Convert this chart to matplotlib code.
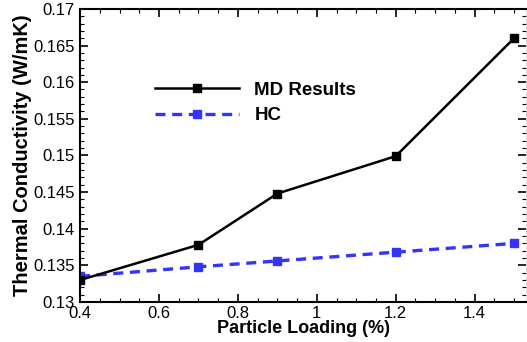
import numpy as np
import matplotlib
matplotlib.use("Agg")
from matplotlib import pyplot as plt
from matplotlib.ticker import MultipleLocator

plt.rcParams["font.family"] = ["Liberation Sans", "DejaVu Sans"]

loading = [0.4, 0.7, 0.9, 1.2, 1.5]
md_results = [0.1330, 0.1378, 0.1448, 0.1499, 0.1660]
hc_values = [0.1335, 0.1348, 0.1356, 0.1368, 0.1380]

x_ticks = [0.4, 0.6, 0.8, 1.0, 1.2, 1.4]
x_labels = ["0.4", "0.6", "0.8", "1", "1.2", "1.4"]
y_ticks = [0.13, 0.135, 0.14, 0.145, 0.15, 0.155, 0.16, 0.165, 0.17]
y_labels = ["0.13", "0.135", "0.14", "0.145", "0.15", "0.155", "0.16", "0.165", "0.17"]

fig = plt.figure(figsize=(5.27, 3.42), dpi=100)
ax = fig.add_axes([0.152, 0.117, 0.846, 0.857])

ax.plot(loading, md_results, "-", color="black", lw=1.8, marker="s",
        ms=5.5, label="MD Results", zorder=3)
ax.plot(loading, hc_values, "--", color="#3333ff", lw=2.4, marker="s",
        ms=5.5, dashes=(3, 2), label="HC", zorder=2)

ax.set_xlim(0.4, 1.53)
ax.set_ylim(0.13, 0.17)
ax.xaxis.set_minor_locator(MultipleLocator(0.05))
ax.yaxis.set_minor_locator(MultipleLocator(0.001))
ax.set_xticks(x_ticks)
ax.set_xticklabels(x_labels)
ax.set_yticks(y_ticks)
ax.set_yticklabels(y_labels)

ax.tick_params(which="both", direction="in", top=True, right=True, labelsize=12)
ax.tick_params(axis="x", pad=3)
ax.tick_params(axis="y", pad=4)
ax.tick_params(which="major", length=6, width=1.2)
ax.tick_params(which="minor", length=3, width=0.8)

for side in ["left", "bottom", "top"]:
    ax.spines[side].set_linewidth(1.5)
ax.spines["right"].set_linewidth(0.6)
ax.spines["right"].set_color("#cccccc")
ax.spines["right"].set_linestyle(":")

ax.set_xlabel("Particle Loading (%)", fontsize=13, fontweight="bold", labelpad=-1)
ax.set_ylabel("Thermal Conductivity (W/mK)", fontsize=14.5, fontweight="bold", labelpad=1)

ax.legend(loc="upper left", bbox_to_anchor=(0.13, 0.81), frameon=False,
          handlelength=4.5, handletextpad=0.8, labelspacing=0.45,
          prop={"weight": "bold", "size": 13.5})

fig.savefig("out.png", dpi=100)
